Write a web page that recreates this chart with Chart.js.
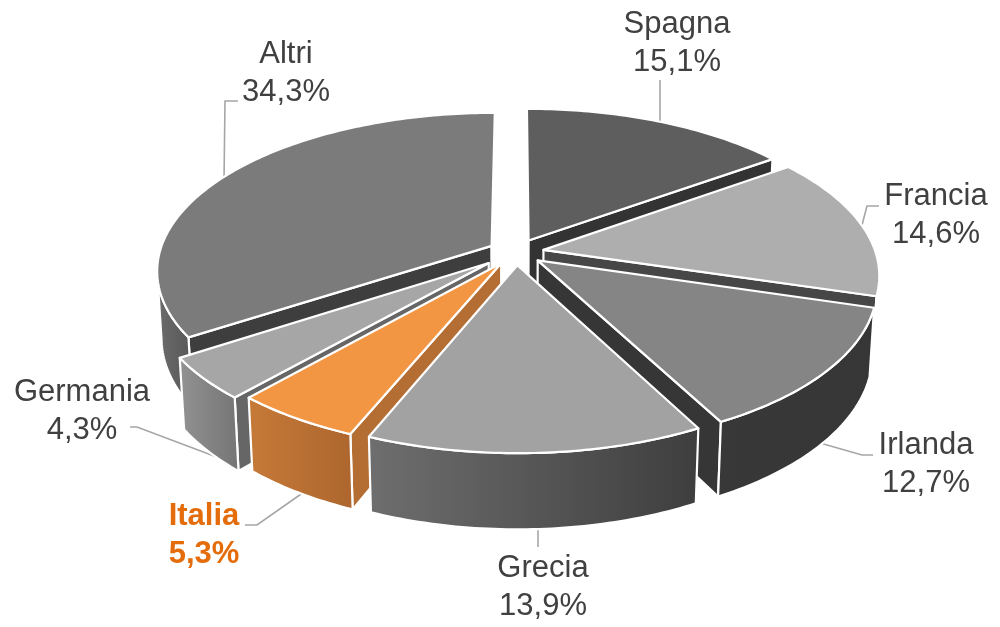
<!DOCTYPE html>
<html lang="it">
<head>
<meta charset="utf-8">
<title>Quote per paese</title>
<script src="https://cdn.jsdelivr.net/npm/chart.js@4"></script>
<style>
  html, body { margin: 0; background: #fff; }
  canvas { display: block; }
</style>
</head>
<body>
<canvas id="grafico" width="1000" height="627"></canvas>
<script>
// Dati
const paesi = ['Spagna', 'Francia', 'Irlanda', 'Grecia', 'Italia', 'Germania', 'Altri'];
const quote = [15.1, 14.6, 12.7, 13.9, 5.3, 4.3, 34.3];

// Stacco delle fette e colori: faccia superiore, taglio, parete (sinistra, destra)
const stacchi = [25, 25, 25, 25, 25, 32, 25];
const coloriTop = ['#5e5e5e', '#aeaeae', '#858585', '#a2a2a2', '#f39644', '#a6a6a6', '#7b7b7b'];
const coloriTaglio = ['#333333', '#474747', '#363636', '#4a4a4a', '#b46d33', '#666666', '#3e3e3e'];
const coloriPareteA = ['#444444', '#555555', '#383838', '#6e6e6e', '#c67a38', '#929292', '#6c6c6c'];
const coloriPareteB = ['#444444', '#555555', '#363636', '#3e3e3e', '#ad662e', '#757575', '#565656'];

// Etichette: centro x, y delle due righe, linea guida
const posEtichette = [
  { x: 677, y: 24, guida: [[660, 80], [660, 132]] },
  { x: 936, y: 196, guida: [[879, 206], [867, 206], [862, 225]] },
  { x: 926, y: 445, guida: [[873, 455], [862, 455], [820, 443]] },
  { x: 543, y: 568, guida: [[538, 525], [538, 547]] },
  { x: 204, y: 516, guida: [[245, 525], [257, 525], [304, 492]] },
  { x: 82, y: 392, guida: [[130, 427], [137, 427], [214, 456]] },
  { x: 286, y: 54, guida: [[238, 101], [225, 101], [224, 182]] }
];

// Proiezione prospettica del piano della torta
const vista = { cx: 516, cy: 252, rx: 332, ry: 155, p: 0.152, q: 0.012, h: 67 };

function proietta(u, v, z) {
  const w = 1 + vista.p * v + vista.q * z;
  return [vista.cx + vista.rx * u / w, vista.cy - vista.ry * v / w + vista.h * z / w];
}

function tracciaPunti(ctx, punti) {
  ctx.beginPath();
  punti.forEach((pt, i) => (i ? ctx.lineTo(pt[0], pt[1]) : ctx.moveTo(pt[0], pt[1])));
  ctx.closePath();
}

function disegnaFaccia(ctx, punti, fill) {
  tracciaPunti(ctx, punti);
  ctx.fillStyle = fill;
  ctx.fill();
  ctx.stroke();
}

function areaFirmata(punti) {
  let s = 0;
  punti.forEach((pt, i) => {
    const q = punti[(i + 1) % punti.length];
    s += pt[0] * q[1] - q[0] * pt[1];
  });
  return s;
}

// Disegna una fetta a partire dall'arco calcolato da Chart.js
function disegnaFetta(ctx, arco, i) {
  const meta = arco.getProps(['startAngle', 'endAngle', 'outerRadius']);
  const mezzo = (meta.startAngle + meta.endAngle) / 2;
  const off = arco.options.offset / meta.outerRadius;
  const du = off * Math.cos(mezzo), dv = -off * Math.sin(mezzo);

  const passi = Math.ceil((meta.endAngle - meta.startAngle) * 60);
  const angoli = [];
  for (let k = 0; k <= passi; k++) {
    angoli.push(meta.startAngle + (meta.endAngle - meta.startAngle) * k / passi);
  }
  const bordo = (lista, z) => lista.map(a => proietta(du + Math.cos(a), dv - Math.sin(a), z));

  const alto = bordo(angoli, 0), basso = bordo(angoli, 1);
  const punta0 = proietta(du, dv, 0), punta1 = proietta(du, dv, 1);
  const n = alto.length - 1;

  ctx.strokeStyle = '#ffffff';
  ctx.lineWidth = 2.2;
  ctx.lineJoin = 'round';

  // tagli radiali, solo quelli rivolti verso chi guarda
  const taglioA = [punta0, alto[0], basso[0], punta1];
  const taglioB = [punta0, alto[n], basso[n], punta1];
  if (areaFirmata(taglioA) < 0) disegnaFaccia(ctx, taglioA, coloriTaglio[i]);
  if (areaFirmata(taglioB) > 0) disegnaFaccia(ctx, taglioB, coloriTaglio[i]);

  // parete esterna, solo la parte davanti alla silhouette
  const davanti = angoli.filter(a => -Math.sin(a) < -vista.p);
  if (davanti.length > 1) {
    const pa = bordo(davanti, 0), pb = bordo(davanti, 1);
    const xs = pa.concat(pb).map(pt => pt[0]);
    const sfum = ctx.createLinearGradient(Math.min(...xs), 0, Math.max(...xs), 0);
    sfum.addColorStop(0, coloriPareteA[i]);
    sfum.addColorStop(1, coloriPareteB[i]);
    disegnaFaccia(ctx, pa.concat(pb.reverse()), sfum);
  }

  // faccia superiore
  disegnaFaccia(ctx, [punta0].concat(alto), arco.options.backgroundColor);
}

const torta3d = {
  id: 'torta3d',
  beforeDatasetDraw(chart) {
    const ctx = chart.ctx;
    const archi = chart.getDatasetMeta(0).data;

    // linee guida sotto la torta
    ctx.save();
    ctx.strokeStyle = '#a6a6a6';
    ctx.lineWidth = 1.6;
    posEtichette.forEach(e => {
      ctx.beginPath();
      e.guida.forEach((pt, k) => (k ? ctx.lineTo(pt[0], pt[1]) : ctx.moveTo(pt[0], pt[1])));
      ctx.stroke();
    });
    ctx.restore();

    // dal fondo verso il davanti
    const ordine = archi.map((arco, i) => {
      const mezzo = (arco.startAngle + arco.endAngle) / 2;
      return { arco, i, prof: -Math.sin(mezzo) };
    }).sort((a, b) => b.prof - a.prof);

    ctx.save();
    ordine.forEach(o => disegnaFetta(ctx, o.arco, o.i));
    ctx.restore();

    // etichette
    ctx.save();
    ctx.textAlign = 'center';
    ctx.textBaseline = 'middle';
    posEtichette.forEach((e, i) => {
      const italia = paesi[i] === 'Italia';
      ctx.font = (italia ? 'bold ' : '') + '31px "Liberation Sans"';
      ctx.fillStyle = italia ? '#e46c0a' : '#404040';
      ctx.fillText(paesi[i], e.x, e.y);
      ctx.fillText(quote[i].toFixed(1).replace('.', ',') + '%', e.x, e.y + 38);
    });
    ctx.restore();

    return false; // le fette sono gia' disegnate
  }
};

new Chart(document.getElementById('grafico'), {
  type: 'pie',
  data: {
    labels: paesi,
    datasets: [{
      data: quote,
      backgroundColor: coloriTop,
      offset: stacchi,
      borderWidth: 0
    }]
  },
  options: {
    responsive: false,
    animation: false,
    plugins: { legend: { display: false }, tooltip: { enabled: false } }
  },
  plugins: [torta3d]
});
</script>
</body>
</html>
